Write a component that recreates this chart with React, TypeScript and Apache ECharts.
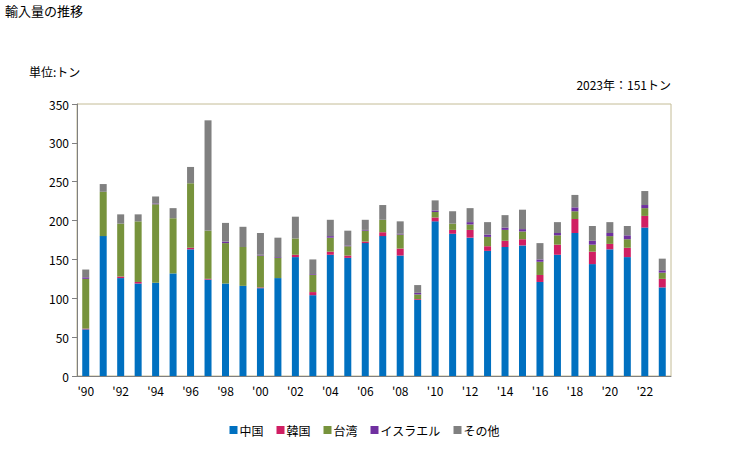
import React, { useEffect, useRef } from "react";
import * as echarts from "echarts";

const categories = [
  "'90", "'91", "'92", "'93", "'94", "'95", "'96", "'97", "'98", "'99",
  "'00", "'01", "'02", "'03", "'04", "'05", "'06", "'07", "'08", "'09",
  "'10", "'11", "'12", "'13", "'14", "'15", "'16", "'17", "'18", "'19",
  "'20", "'21", "'22", "'23",
];

const china = [60, 180, 126, 119, 120, 132, 163, 124, 119, 116, 113, 126, 153, 104, 156, 152, 171, 180, 155, 98, 199, 183, 178, 161, 166, 168, 121, 156, 184, 144, 163, 153, 191, 114];
const korea = [1, 0, 2, 2, 0, 0, 2, 1, 0, 0, 1, 0, 3, 4, 4, 3, 2, 5, 9, 1, 5, 5, 10, 6, 8, 8, 9, 13, 18, 16, 7, 12, 15, 11];
const taiwan = [64, 57, 68, 78, 101, 71, 83, 62, 52, 50, 41, 26, 21, 22, 18, 12, 14, 16, 18, 6, 7, 8, 7, 12, 14, 10, 17, 12, 10, 9, 10, 11, 10, 8];
const israel = [2, 0, 0, 0, 1, 0, 0, 0, 2, 0, 1, 1, 0, 1, 2, 1, 1, 0, 1, 2, 2, 0, 3, 3, 3, 3, 3, 3, 5, 5, 4, 5, 4, 3];
const others = [10, 10, 12, 9, 9, 13, 21, 142, 24, 26, 28, 25, 28, 19, 21, 19, 13, 19, 16, 10, 13, 16, 18, 16, 16, 25, 21, 14, 16, 19, 14, 12, 18, 15];

const seriesNames = ["中国", "韓国", "台湾", "イスラエル", "その他"];
const seriesColors = ["#0070C0", "#D01F63", "#77933C", "#7030A0", "#808080"];
const seriesData = [china, korea, taiwan, israel, others];

const yTicks = { min: 0, max: 350, interval: 50 };

const FONT = "'Noto Sans CJK JP', 'Noto Sans', sans-serif";

export default function App() {
  const ref = useRef<HTMLDivElement>(null);
  useEffect(() => {
    if (!ref.current) return;
    const chart = echarts.init(ref.current, null, { renderer: "svg" });
    chart.setOption({
      animation: false,
      backgroundColor: "#ffffff",
      textStyle: { fontFamily: FONT },
      graphic: [
        { type: "text", left: 5, top: 4, style: { text: "輸入量の推移", fontSize: 13, fill: "#000", fontFamily: FONT } },
        { type: "text", left: 29, top: 65, style: { text: "単位:トン", fontSize: 12, fill: "#000", fontFamily: FONT } },
        { type: "text", right: 58, top: 78, style: { text: "2023年：151トン", fontSize: 12, fill: "#000", fontFamily: FONT } },
      ],
      legend: {
        bottom: 9,
        left: "center",
        itemWidth: 8,
        itemHeight: 8,
        itemGap: 13,
        icon: "rect",
        textStyle: { fontSize: 12, color: "#000", fontFamily: FONT, padding: [0, 0, 0, -3] },
        data: seriesNames,
      },
      grid: {
        left: 77,
        right: 58,
        top: 104,
        bottom: 74,
        show: true,
        borderColor: "#C4BC96",
        borderWidth: 1,
        containLabel: false,
      },
      xAxis: {
        type: "category",
        data: categories,
        axisLine: { lineStyle: { color: "#808080", width: 1 } },
        axisTick: { show: false },
        axisLabel: { interval: 1, color: "#000", fontSize: 12, margin: 8, fontFamily: FONT },
      },
      yAxis: {
        type: "value",
        min: yTicks.min,
        max: yTicks.max,
        interval: yTicks.interval,
        axisLine: { show: true, lineStyle: { color: "#808080", width: 1 } },
        axisTick: { show: true, length: 5, lineStyle: { color: "#808080" } },
        splitLine: { show: false },
        axisLabel: { color: "#000", fontSize: 12, margin: 8, fontFamily: FONT },
      },
      series: seriesNames.map((name, i) => ({
        name,
        type: "bar",
        stack: "total",
        barWidth: 7,
        data: seriesData[i],
        itemStyle: { color: seriesColors[i] },
      })),
    });
    return () => chart.dispose();
  }, []);
  return (
    <div
      ref={ref}
      style={{ position: "fixed", left: 0, top: 0, width: 729, height: 450 }}
    />
  );
}
